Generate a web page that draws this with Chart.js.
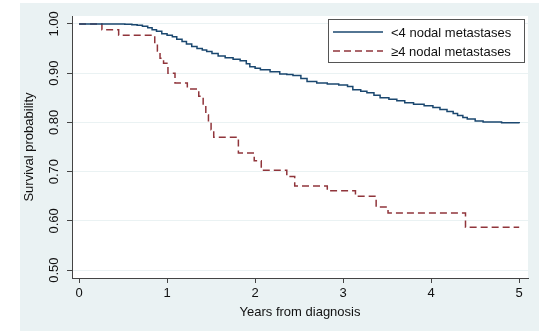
<!DOCTYPE html>
<html>
<head>
<meta charset="utf-8">
<script src="https://cdn.jsdelivr.net/npm/chart.js@4/dist/chart.umd.min.js"></script>
<style>
  body { margin: 0; background: #ffffff; }
  #wrap { position: absolute; left: 20px; top: 3px; width: 519px; height: 328px; background: #eaf2f3; }
</style>
</head>
<body>
<div id="wrap"><canvas id="kmChart" width="519" height="328"></canvas></div>
<script>
// Kaplan-Meier estimates
const lowTimes = [0, 0.52, 0.60, 0.66, 0.72, 0.78, 0.83, 0.88, 0.94, 1.00, 1.06, 1.11, 1.17, 1.22, 1.28,
    1.34, 1.40, 1.45, 1.51, 1.58, 1.66, 1.75, 1.83, 1.90, 1.94, 2.00, 2.06, 2.17, 2.28, 2.36, 2.43,
    2.52, 2.59, 2.70, 2.82, 2.95, 3.05, 3.11, 3.20, 3.27, 3.35, 3.42, 3.52, 3.61, 3.70, 3.80, 3.92,
    4.02, 4.10, 4.18, 4.25, 4.30, 4.36, 4.41, 4.50, 4.59, 4.80, 5.00];
const lowSurv = [1.000, 0.999, 0.998, 0.997, 0.995, 0.992, 0.988, 0.985, 0.980, 0.977, 0.974, 0.969, 0.964, 0.959, 0.954,
    0.950, 0.947, 0.944, 0.940, 0.935, 0.931, 0.928, 0.925, 0.919, 0.913, 0.910, 0.907, 0.903, 0.898, 0.897, 0.895,
    0.889, 0.883, 0.880, 0.878, 0.876, 0.873, 0.866, 0.863, 0.860, 0.855, 0.850, 0.847, 0.844, 0.840, 0.837, 0.834,
    0.830, 0.826, 0.822, 0.818, 0.814, 0.810, 0.807, 0.803, 0.801, 0.799, 0.798];

const highTimes = [0, 0.26, 0.45, 0.86, 0.89, 0.92, 0.96, 1.01, 1.09, 1.23, 1.36, 1.41, 1.44, 1.47, 1.50, 1.53,
    1.81, 1.99, 2.07, 2.36, 2.45, 2.82, 3.14, 3.375, 3.51, 4.39, 5.00];
const highSurv = [1.000, 0.988, 0.977, 0.960, 0.945, 0.930, 0.920, 0.900, 0.880, 0.868, 0.853, 0.835, 0.815, 0.800, 0.785, 0.770,
    0.738, 0.722, 0.703, 0.690, 0.671, 0.661, 0.650, 0.628, 0.616, 0.587, 0.587];

const seriesLabels = ['<4 nodal metastases', '\u22654 nodal metastases'];
const xTicks = [0, 1, 2, 3, 4, 5];
const yTicks = [0.5, 0.6, 0.7, 0.8, 0.9, 1.0];

const FONT = 'Liberation Sans, Arial, sans-serif';

function toPoints(xs, ys) {
    return xs.map((x, i) => ({ x: x, y: ys[i] }));
}

// white plot region on the grey-blue graph region
const plotBackground = {
    id: 'plotBackground',
    beforeDraw(chart) {
        const a = chart.chartArea;
        const ctx = chart.ctx;
        ctx.save();
        ctx.fillStyle = '#ffffff';
        ctx.fillRect(a.left, a.top, a.right - a.left, a.bottom - a.top);
        ctx.restore();
    }
};

// boxed legend in the top right corner, Stata style
const boxLegend = {
    id: 'boxLegend',
    afterDraw(chart) {
        const ctx = chart.ctx;
        const x0 = 308.5, y0 = 16.5, w = 196, h = 43;
        ctx.save();
        ctx.fillStyle = '#ffffff';
        ctx.fillRect(x0, y0, w, h);
        ctx.strokeStyle = '#555555';
        ctx.lineWidth = 1;
        ctx.strokeRect(x0, y0, w, h);
        chart.data.datasets.forEach((ds, i) => {
            const y = 29 + i * 19;
            ctx.strokeStyle = ds.borderColor;
            ctx.lineWidth = ds.borderWidth;
            ctx.setLineDash(ds.borderDash || []);
            ctx.beginPath();
            ctx.moveTo(313, y);
            ctx.lineTo(363, y);
            ctx.stroke();
            ctx.setLineDash([]);
            ctx.fillStyle = '#111111';
            ctx.font = '13px ' + FONT;
            ctx.textBaseline = 'middle';
            ctx.textAlign = 'left';
            ctx.fillText(ds.label, 371, y + 1);
        });
        ctx.restore();
    }
};

const kmChart = new Chart(document.getElementById('kmChart'), {
    type: 'line',
    data: {
        datasets: [{
            label: seriesLabels[0],
            data: toPoints(lowTimes, lowSurv),
            borderColor: '#1a476f',
            borderWidth: 1.5,
            stepped: 'before',
            pointRadius: 0,
            fill: false
        }, {
            label: seriesLabels[1],
            data: toPoints(highTimes, highSurv),
            borderColor: '#90353b',
            borderWidth: 1.5,
            borderDash: [7, 4],
            stepped: 'before',
            pointRadius: 0,
            fill: false
        }]
    },
    options: {
        responsive: false,
        animation: false,
        layout: { padding: { left: 0, right: 11, top: 13, bottom: 0 } },
        plugins: {
            legend: { display: false },
            tooltip: { enabled: false }
        },
        scales: {
            x: {
                type: 'linear',
                min: -0.08,
                max: 5.1,
                afterBuildTicks: (axis) => { axis.ticks = xTicks.map(v => ({ value: v })); },
                afterFit: (axis) => { axis.height = 53; },
                border: { color: '#444444', width: 1 },
                grid: { drawOnChartArea: false, tickLength: 5, tickColor: '#444444' },
                ticks: {
                    color: '#111111',
                    font: { family: FONT, size: 13 },
                    padding: 3,
                    maxRotation: 0,
                    callback: (v) => String(v)
                },
                title: {
                    display: true,
                    text: 'Years from diagnosis',
                    color: '#111111',
                    font: { family: FONT, size: 13 },
                    padding: { top: 4, bottom: 11 }
                }
            },
            y: {
                type: 'linear',
                min: 0.484,
                max: 1.016,
                afterBuildTicks: (axis) => { axis.ticks = yTicks.map(v => ({ value: v })); },
                afterFit: (axis) => { axis.width = 52; },
                border: { color: '#444444', width: 1 },
                grid: { color: '#eaf2f3', lineWidth: 1, tickLength: 5, tickColor: '#444444' },
                ticks: {
                    color: '#111111',
                    font: { family: FONT, size: 13 },
                    minRotation: 90,
                    maxRotation: 90,
                    crossAlign: 'center',
                    padding: 0,
                    callback: (v) => Number(v).toFixed(2)
                },
                title: {
                    display: true,
                    text: 'Survival probability',
                    color: '#111111',
                    font: { family: FONT, size: 13 },
                    padding: { top: 2, bottom: 0 }
                }
            }
        }
    },
    plugins: [plotBackground, boxLegend]
});
</script>
</body>
</html>
